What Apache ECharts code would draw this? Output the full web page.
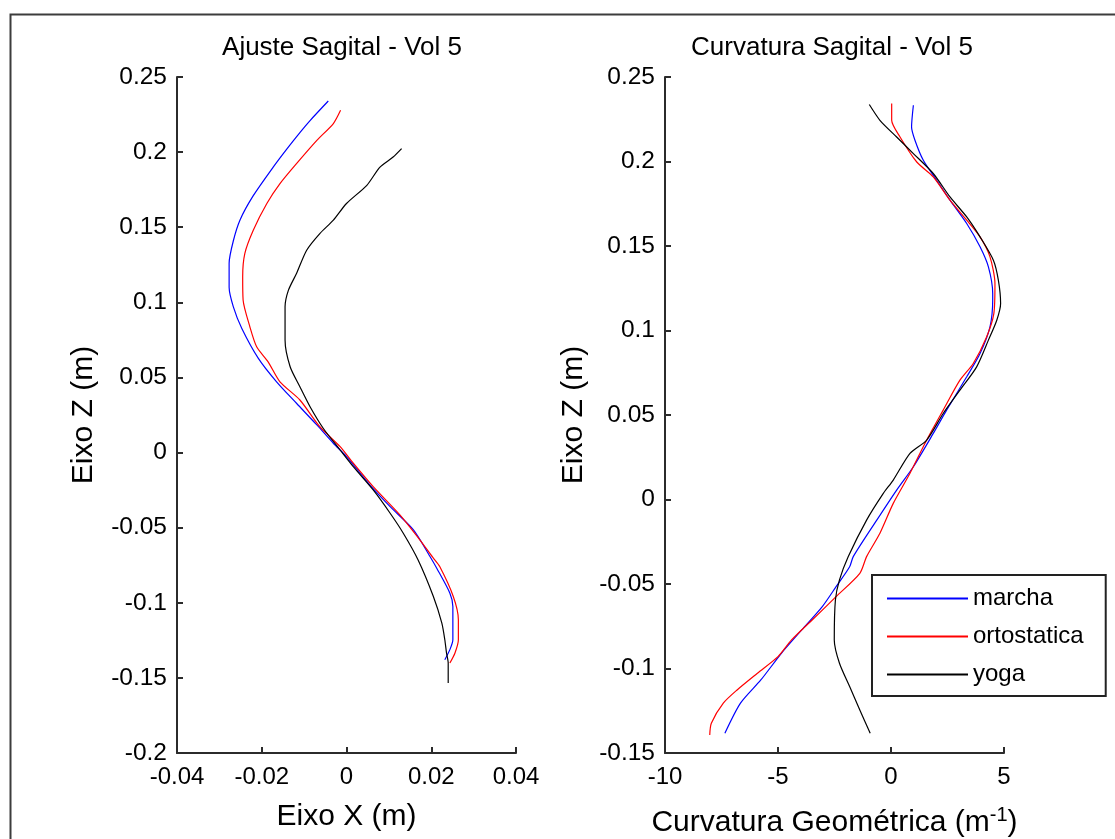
<!DOCTYPE html>
<html>
<head>
<meta charset="utf-8">
<script src="https://cdn.jsdelivr.net/npm/echarts@6/dist/echarts.min.js"></script>
<style>
html,body{margin:0;padding:0;background:#fff;}
#c{width:1115px;height:839px;}
</style>
</head>
<body>
<div id="c"></div>
<script>
// ---- Data ----
const seriesNames = ['marcha', 'ortostatica', 'yoga'];

// Left panel: Ajuste Sagital - Eixo X (m) vs Eixo Z (m)
const ajusteX_marcha = [-0.0043, -0.0086, -0.011, -0.0141, -0.0173, -0.022, -0.0251, -0.0267, -0.0277, -0.0277, -0.0267, -0.0247, -0.0208, -0.0165, -0.0118, -0.007, -0.0031, 0.0, 0.0055, 0.0103, 0.0158, 0.0197, 0.0213, 0.0244, 0.0251, 0.0251, 0.0244, 0.0232];
const ajusteZ_marcha = [0.234, 0.221, 0.213, 0.202, 0.190, 0.171, 0.155, 0.141, 0.126, 0.110, 0.097, 0.0826, 0.0627, 0.0471, 0.0328, 0.0184, 0.0062, -0.0027, -0.0215, -0.036, -0.0515, -0.0692, -0.077, -0.0936, -0.1025, -0.1246, -0.1312, -0.1379];

const ajusteX_orto = [-0.0014, -0.0031, -0.007, -0.0118, -0.0157, -0.0188, -0.022, -0.024, -0.0245, -0.0244, -0.0228, -0.0212, -0.0185, -0.0157, -0.011, -0.0063, -0.0015, 0.0016, 0.0063, 0.0126, 0.0173, 0.0205, 0.022, 0.0252, 0.0264, 0.0264, 0.0256, 0.0244];
const ajusteZ_orto = [0.2278, 0.219, 0.2078, 0.1923, 0.179, 0.1658, 0.148, 0.1325, 0.117, 0.1015, 0.0837, 0.0704, 0.0604, 0.0471, 0.035, 0.0172, 0.0039, -0.0071, -0.0227, -0.0415, -0.0581, -0.0703, -0.0759, -0.0958, -0.1113, -0.1246, -0.1334, -0.1401];

const ajusteX_yoga = [0.013, 0.011, 0.0079, 0.0048, 0.0, -0.0031, -0.0063, -0.0094, -0.0118, -0.0137, -0.0145, -0.0145, -0.0133, -0.011, -0.0086, -0.0055, -0.0015, 0.0016, 0.0063, 0.0103, 0.0134, 0.0169, 0.0205, 0.0225, 0.0232, 0.0236, 0.024, 0.024];
const ajusteZ_yoga = [0.2023, 0.1967, 0.190, 0.1779, 0.1658, 0.1547, 0.1458, 0.1347, 0.1192, 0.1081, 0.097, 0.0749, 0.0571, 0.0438, 0.0305, 0.0162, 0.0017, -0.0094, -0.0249, -0.0404, -0.0537, -0.0715, -0.0958, -0.1135, -0.1246, -0.1334, -0.14, -0.1534];

// Right panel: Curvatura Sagital - Curvatura Geométrica (m^-1) vs Eixo Z (m)
const curvK_marcha = [0.99, 0.91, 1.06, 1.43, 2.02, 2.61, 3.35, 3.94, 4.31, 4.50, 4.50, 4.38, 3.94, 3.35, 2.46, 1.87, 0.99, 0.25, -0.63, -1.67, -1.83, -2.43, -3.04, -3.95, -4.85, -5.76, -6.66, -7.35];
const curvZ_marcha = [0.2333, 0.2204, 0.2126, 0.2007, 0.1889, 0.1771, 0.1633, 0.1495, 0.1376, 0.1219, 0.118, 0.1022, 0.0864, 0.0726, 0.0529, 0.0391, 0.0194, 0.0056, -0.0122, -0.0338, -0.0398, -0.0516, -0.0634, -0.0772, -0.091, -0.1068, -0.1205, -0.1383];

const curvK_orto = [0.03, 0.03, 0.40, 1.14, 1.87, 2.61, 3.35, 3.94, 4.38, 4.60, 4.55, 4.23, 3.64, 3.05, 2.31, 1.58, 0.84, 0.10, -0.49, -1.08, -1.38, -2.43, -3.49, -4.40, -5.0, -5.91, -6.81, -7.42, -7.95, -8.02];
const curvZ_orto = [0.2343, 0.2244, 0.2145, 0.1997, 0.1909, 0.1771, 0.1653, 0.1554, 0.1436, 0.1278, 0.11, 0.0962, 0.0805, 0.0706, 0.0529, 0.0352, 0.0155, -0.0023, -0.02, -0.0338, -0.0437, -0.0575, -0.0713, -0.0831, -0.093, -0.1028, -0.1127, -0.1205, -0.1324, -0.1393];

const curvK_yoga = [-0.96, -0.49, 0.25, 0.99, 1.87, 2.61, 3.35, 3.94, 4.53, 4.75, 4.85, 4.68, 4.31, 3.79, 3.05, 2.31, 1.58, 0.84, 0.10, -0.34, -1.08, -1.89, -2.28, -2.46, -2.51, -2.28, -1.83, -1.38, -0.92];
const curvZ_yoga = [0.2337, 0.2244, 0.2145, 0.2047, 0.1929, 0.179, 0.1672, 0.1554, 0.1416, 0.1298, 0.116, 0.1061, 0.0943, 0.0785, 0.0647, 0.0509, 0.0352, 0.0273, 0.0115, 0.0036, -0.0122, -0.0338, -0.0476, -0.0595, -0.0831, -0.0969, -0.1107, -0.1245, -0.1383];

// ---- Chart ----
const FONT = 'Liberation Sans, Arial, sans-serif';
const AX = '#2b2b2b';
const colors = ['#0000ff', '#ff0000', '#000000'];
const zip = (a, b) => a.map((v, i) => [v, b[i]]);
const fmt = v => String(Math.round(v * 1000) / 1000);

function xAxisOf(idx, min, max, interval, name, gap) {
  return {
    type: 'value', gridIndex: idx, min, max, interval,
    name, nameLocation: 'middle', nameGap: gap,
    nameTextStyle: {fontFamily: FONT, fontSize: 30, color: '#000',
      rich: {sup: {fontFamily: FONT, fontSize: 20, color: '#000', padding: [0, 0, 16, 0]}}},
    axisLine: {show: true, onZero: false, lineStyle: {color: AX, width: 2}},
    axisTick: {show: true, inside: true, length: 6, lineStyle: {color: AX, width: 2}},
    axisLabel: {fontFamily: FONT, fontSize: 24, color: '#000', margin: 12, formatter: fmt},
    splitLine: {show: false}
  };
}
function yAxisOf(idx, min, max, interval, gap) {
  return {
    type: 'value', gridIndex: idx, min, max, interval,
    name: 'Eixo Z (m)', nameLocation: 'middle', nameGap: gap, nameRotate: 90,
    nameTextStyle: {fontFamily: FONT, fontSize: 30, color: '#000'},
    axisLine: {show: true, onZero: false, lineStyle: {color: AX, width: 2}},
    axisTick: {show: true, inside: true, length: 6, lineStyle: {color: AX, width: 2}},
    axisLabel: {fontFamily: FONT, fontSize: 24.5, color: '#000', margin: 10, formatter: fmt},
    splitLine: {show: false}
  };
}
function lineSeries(name, idx, data, color) {
  return {
    name, type: 'line', xAxisIndex: idx, yAxisIndex: idx, data,
    symbol: 'none', showSymbol: false, smooth: 0.25, animation: false,
    lineStyle: {color, width: 1.2}, itemStyle: {color}
  };
}

const option = {
  backgroundColor: '#ffffff',
  animation: false,
  graphic: [{
    type: 'rect', left: 8, top: 12, silent: true, z: -1,
    shape: {width: 1200, height: 900},
    style: {fill: 'none', stroke: '#3c3c3c', lineWidth: 2}
  }],
  title: [
    {text: 'Ajuste Sagital - Vol 5', left: 342, top: 35, textAlign: 'center', padding: 0,
     textStyle: {fontFamily: FONT, fontSize: 26, fontWeight: 'normal', color: '#000'}},
    {text: 'Curvatura Sagital - Vol 5', left: 832, top: 35, textAlign: 'center', padding: 0,
     textStyle: {fontFamily: FONT, fontSize: 26, fontWeight: 'normal', color: '#000'}}
  ],
  grid: [
    {left: 177, top: 77, width: 339, height: 676, outerBoundsMode: 'none', containLabel: false},
    {left: 665, top: 77, width: 339, height: 676, outerBoundsMode: 'none', containLabel: false}
  ],
  xAxis: [
    xAxisOf(0, -0.04, 0.04, 0.02, 'Eixo X (m)', 49),
    xAxisOf(1, -10, 5, 5, 'Curvatura Geométrica (m{sup|-1})', 52)
  ],
  yAxis: [
    yAxisOf(0, -0.2, 0.25, 0.05, 78),
    yAxisOf(1, -0.15, 0.25, 0.05, 76)
  ],
  legend: {
    orient: 'vertical', left: 872, top: 575,
    selectedMode: false,
    data: seriesNames.map(n => ({name: n, icon: 'rect'})),
    itemWidth: 81, itemHeight: 2, itemGap: 13,
    padding: [11, 22, 9, 15],
    borderColor: '#222', borderWidth: 2, backgroundColor: '#fff',
    textStyle: {fontFamily: FONT, fontSize: 24, color: '#000', lineHeight: 25}
  },
  series: [
    lineSeries(seriesNames[0], 0, zip(ajusteX_marcha, ajusteZ_marcha), colors[0]),
    lineSeries(seriesNames[1], 0, zip(ajusteX_orto, ajusteZ_orto), colors[1]),
    lineSeries(seriesNames[2], 0, zip(ajusteX_yoga, ajusteZ_yoga), colors[2]),
    lineSeries(seriesNames[0], 1, zip(curvK_marcha, curvZ_marcha), colors[0]),
    lineSeries(seriesNames[1], 1, zip(curvK_orto, curvZ_orto), colors[1]),
    lineSeries(seriesNames[2], 1, zip(curvK_yoga, curvZ_yoga), colors[2])
  ]
};

const chart = echarts.init(document.getElementById('c'), null, {renderer: 'canvas'});
chart.setOption(option);
</script>
</body>
</html>
